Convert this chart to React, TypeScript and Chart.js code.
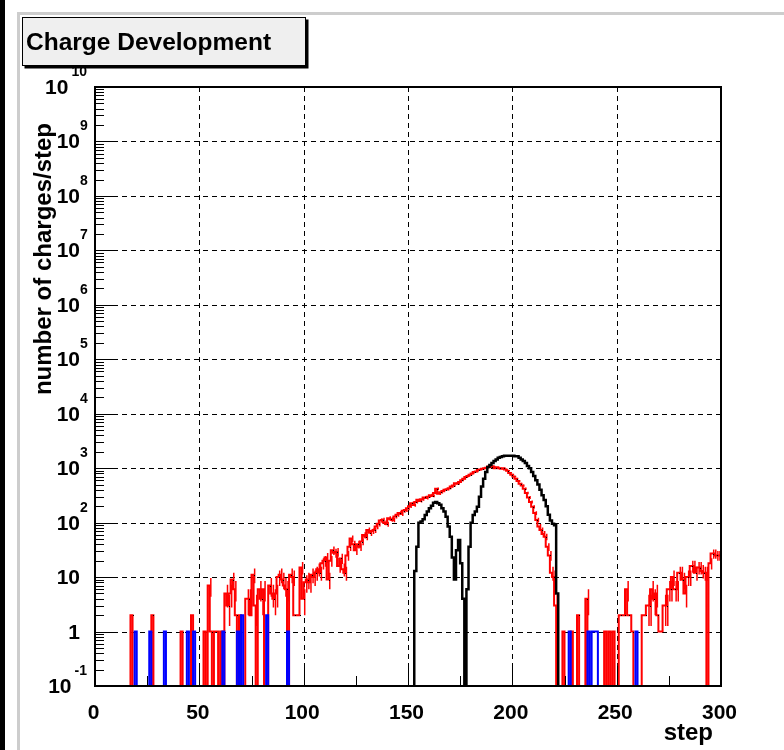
import React, { useEffect, useRef } from "react";
import { Chart, registerables } from "chart.js";

Chart.register(...registerables);

// ---- data -------------------------------------------------------------
const STEP_MIN = 0;
const STEP_MAX = 300;
const Y_MIN = 0.1;
const Y_MAX = 1e10;

const X_MAJOR_TICKS = [0, 50, 100, 150, 200, 250, 300];
const X_MINOR_TICKS = [25, 75, 125, 175, 225, 275];
const X_GRID = [50, 100, 150, 200, 250];
const Y_DECADES = [-1, 0, 1, 2, 3, 4, 5, 6, 7, 8, 9, 10];

// charges per step, all particles (steps 0..299)
const RED_COUNTS = [
  0, 0, 0, 0, 0, 0, 0, 0, 0, 0, 0, 0, 0, 0, 0, 0, 0, 0, 2, 0,
  0, 0, 0, 0, 0, 0, 0, 0, 2, 0, 0, 0, 0, 0, 0, 0, 0, 0, 0, 0,
  0, 0, 1, 0, 0, 0, 0, 2, 0, 0, 0, 0, 0, 1, 0, 7, 1, 0, 1, 1,
  0, 1, 0, 5, 3, 5, 9, 6, 2, 0, 2, 0, 0, 4, 4, 2, 11, 3, 0, 6,
  4, 6, 0, 0, 7, 5, 4, 5, 10, 11, 9, 7, 6, 0, 11, 10, 2, 2, 2, 15,
  4, 8, 9, 8, 11, 10, 12, 14, 12, 18, 20, 23, 9, 20, 31, 28, 29, 16, 22, 14,
  12, 25, 36, 51, 40, 31, 40, 36, 45, 59, 55, 73, 65, 70, 73, 85, 95, 110, 112, 100,
  94, 120, 115, 112, 130, 140, 150, 145, 165, 170, 183, 200, 226, 210, 240, 262, 250, 270, 290, 282,
  300, 320, 310, 350, 420, 340, 360, 380, 400, 410, 430, 460, 480, 530, 520, 560, 600, 640, 690, 720,
  760, 800, 850, 870, 930, 950, 980, 1000, 1020, 1070, 1050, 1080, 1000, 1040, 1000, 980, 1000, 950, 900, 820,
  760, 700, 640, 580, 520, 480, 420, 350, 290, 240, 195, 150, 112, 85, 73, 62, 55, 36, 25, 12,
  10, 3, 0, 0, 0, 1, 0, 0, 0, 1, 0, 0, 2, 0, 0, 0, 4, 0, 0, 0,
  0, 0, 0, 0, 0, 1, 0, 1, 0, 1, 0, 0, 2, 2, 2, 6, 2, 2, 1, 0,
  0, 0, 0, 2, 2, 3, 3, 6, 4, 5, 2, 1, 1, 3, 3, 6, 6, 10, 6, 6,
  12, 12, 9, 5, 10, 10, 16, 16, 12, 15, 15, 13, 12, 12, 0, 18, 27, 27, 25, 25,
];

// second component, non-empty from step 154 on
const BLACK_FIRST_STEP = 154;
const BLACK_COUNTS = [
  13, 36, 100, 105, 115, 138, 160, 183, 205, 232,
  240, 226, 212, 183, 160, 128, 85, 55, 23, 9,
  31, 48, 18, 4, 0, 6, 36, 100, 138, 160,
  195, 300, 460, 640, 850, 1050, 1150, 1250, 1350, 1450,
  1550, 1600, 1650, 1700, 1700, 1700, 1700, 1700, 1650, 1650,
  1550, 1450, 1350, 1250, 1100, 1000, 850, 720, 600, 500,
  400, 320, 260, 200, 140, 110, 95, 90, 5,
];

// sparse third component
const BLUE_STEPS = [20, 27, 34, 45, 48, 62, 69, 71, 83, 93, 228, 237, 239, 240, 241, 260];
const BLUE_COUNTS = [1, 1, 1, 1, 1, 1, 1, 2, 2, 1, 1, 1, 1, 1, 1, 1];

const FRAME_TITLE = "Charge Development";
const X_TITLE = "step";
const Y_TITLE = "number of charges/step";

// ---- helpers ----------------------------------------------------------
const FONT_FAMILY = '"Liberation Sans", Arial, Helvetica, sans-serif';
const EMPTY_BIN = 0.01; // empty bins drop below the log axis floor
const MIN_COUNT_WITH_ERROR = 3;

function fullBins(firstStep: number, counts: number[]): number[] {
  const out = new Array(STEP_MAX - STEP_MIN).fill(0);
  counts.forEach((c, i) => (out[firstStep + i] = c));
  return out;
}

function sparseBins(steps: number[], counts: number[]): number[] {
  const out = new Array(STEP_MAX - STEP_MIN).fill(0);
  steps.forEach((s, i) => (out[s] = counts[i]));
  return out;
}

function stepPoints(counts: number[]) {
  const pts = counts.map((c, i) => ({ x: STEP_MIN + i, y: c > 0 ? c : EMPTY_BIN }));
  const last = counts[counts.length - 1];
  pts.push({ x: STEP_MIN + counts.length, y: last > 0 ? last : EMPTY_BIN });
  return pts;
}

const decorations = {
  id: "rootDecorations",
  beforeDatasetsDraw(chart: any) {
    const { ctx, chartArea: a, scales } = chart;
    ctx.save();
    ctx.strokeStyle = "#000";
    ctx.lineWidth = 1;
    ctx.setLineDash([5, 4]);
    ctx.beginPath();
    for (const v of X_GRID) {
      const px = Math.round(scales.x.getPixelForValue(v)) + 0.5;
      ctx.moveTo(px, a.top);
      ctx.lineTo(px, a.bottom);
    }
    for (let k = 0; k <= 9; k++) {
      const py = Math.round(scales.y.getPixelForValue(Math.pow(10, k))) + 0.5;
      ctx.moveTo(a.left, py);
      ctx.lineTo(a.right, py);
    }
    ctx.stroke();
    ctx.restore();
  },
  // statistical (sqrt N) error bars on the all-particle histogram
  afterDatasetDraw(chart: any, args: any) {
    const ds = chart.data.datasets[args.index];
    if (ds.label !== "all charges") return;
    const { ctx, chartArea: a, scales } = chart;
    ctx.save();
    ctx.beginPath();
    ctx.rect(a.left, a.top, a.right - a.left, a.bottom - a.top);
    ctx.clip();
    ctx.strokeStyle = "#ff0000";
    ctx.lineWidth = 1.5;
    ctx.beginPath();
    RED_COUNTS.forEach((n, i) => {
      if (n < MIN_COUNT_WITH_ERROR) return;
      const err = Math.sqrt(n);
      const px = scales.x.getPixelForValue(STEP_MIN + i + 0.5);
      ctx.moveTo(px, scales.y.getPixelForValue(n - err));
      ctx.lineTo(px, scales.y.getPixelForValue(n + err));
    });
    ctx.stroke();
    ctx.fillStyle = "#000";
    RED_COUNTS.forEach((n, i) => {
      if (n <= 0 || i % 2) return;
      const px = scales.x.getPixelForValue(STEP_MIN + i + 0.5);
      const py = scales.y.getPixelForValue(n);
      ctx.fillRect(Math.round(px) - 1, Math.round(py), 1, 1);
    });
    ctx.restore();
  },
  afterDatasetsDraw(chart: any) {
    const { ctx, chartArea: a, scales } = chart;
    ctx.save();
    ctx.setLineDash([]);
    ctx.strokeStyle = "#000";
    ctx.lineWidth = 2;
    ctx.strokeRect(a.left, a.top, a.right - a.left, a.bottom - a.top);

    ctx.lineWidth = 1;
    ctx.beginPath();
    // log y ticks
    for (let k = -1; k <= 10; k++) {
      for (let m = 1; m <= 9; m++) {
        const v = m * Math.pow(10, k);
        if (v < Y_MIN || v > Y_MAX) continue;
        const py = Math.round(scales.y.getPixelForValue(v)) + 0.5;
        const len = m === 1 ? 20 : 9;
        ctx.moveTo(a.left, py);
        ctx.lineTo(a.left + len, py);
      }
    }
    // x ticks
    for (const v of X_MAJOR_TICKS) {
      const px = Math.round(scales.x.getPixelForValue(v)) + 0.5;
      ctx.moveTo(px, a.bottom);
      ctx.lineTo(px, a.bottom - 20);
    }
    for (const v of X_MINOR_TICKS) {
      const px = Math.round(scales.x.getPixelForValue(v)) + 0.5;
      ctx.moveTo(px, a.bottom);
      ctx.lineTo(px, a.bottom - 10);
    }
    ctx.stroke();
    ctx.restore();
  },
  afterDraw(chart: any) {
    const { ctx, chartArea: a, scales } = chart;
    ctx.save();
    ctx.fillStyle = "#000";

    // y tick labels
    const labelFont = `bold 21px ${FONT_FAMILY}`;
    const expFont = `bold 14px ${FONT_FAMILY}`;
    for (const k of Y_DECADES) {
      const py = scales.y.getPixelForValue(Math.pow(10, k));
      ctx.textBaseline = "alphabetic";
      if (k === 0 || k === 1) {
        ctx.font = labelFont;
        ctx.textAlign = "right";
        ctx.fillText(k === 0 ? "1" : "10", a.left - 15, py + 7);
        continue;
      }
      const exp = String(k);
      ctx.font = expFont;
      const expW = ctx.measureText(exp).width;
      const multi = exp.length > 1;
      const baseRight = multi ? a.left - 15 - (expW - 8) - 4 : a.left - 15;
      ctx.font = labelFont;
      ctx.textAlign = "right";
      ctx.fillText("10", baseRight, py + 7);
      ctx.font = expFont;
      ctx.textAlign = "left";
      ctx.fillText(exp, baseRight + (multi ? 3 : 0), py - 11);
    }

    // x tick labels
    ctx.font = labelFont;
    ctx.textAlign = "center";
    for (const v of X_MAJOR_TICKS) {
      const px = scales.x.getPixelForValue(v);
      ctx.fillText(String(v), px - 1.5, a.bottom + 33);
    }

    // axis titles
    const titleFont = `bold 24px ${FONT_FAMILY}`;
    ctx.font = titleFont;
    ctx.textAlign = "right";
    ctx.fillText(X_TITLE, a.right - 8, a.bottom + 54);

    ctx.save();
    ctx.translate(51, a.top + 36);
    ctx.rotate(-Math.PI / 2);
    ctx.textAlign = "right";
    ctx.fillText(Y_TITLE, 0, 0);
    ctx.restore();

    // title box
    const bx = 22.5, by = 17.5, bw = 283, bh = 48;
    ctx.fillStyle = "#000";
    ctx.fillRect(bx + 2, by + 2, bw + 1, bh + 1);
    ctx.fillStyle = "#efefef";
    ctx.fillRect(bx, by, bw, bh);
    ctx.strokeStyle = "#000";
    ctx.lineWidth = 1;
    ctx.strokeRect(bx, by, bw, bh);
    ctx.fillStyle = "#000";
    ctx.font = `bold 24.5px ${FONT_FAMILY}`;
    ctx.textAlign = "left";
    ctx.fillText(FRAME_TITLE, 26, 50);

    ctx.restore();
  },
};

export default function App() {
  const canvasRef = useRef<HTMLCanvasElement | null>(null);

  useEffect(() => {
    const canvas = canvasRef.current;
    if (!canvas) return;
    const area = { left: 95, top: 87, right: 721, bottom: 686 };
    const chart = new Chart(canvas, {
      type: "line",
      data: {
        datasets: [
          {
            label: "blue",
            data: stepPoints(sparseBins(BLUE_STEPS, BLUE_COUNTS)),
            borderColor: "#0000ff",
            borderWidth: 2,
            stepped: "after",
            pointRadius: 0,
            fill: false,
            order: 0,
          },
          {
            label: "black",
            data: stepPoints(fullBins(BLACK_FIRST_STEP, BLACK_COUNTS)),
            borderColor: "#000000",
            borderWidth: 2.5,
            stepped: "after",
            pointRadius: 0,
            fill: false,
            order: 1,
          },
          {
            label: "all charges",
            data: stepPoints(RED_COUNTS),
            borderColor: "#ff0000",
            borderWidth: 2,
            stepped: "after",
            pointRadius: 0,
            fill: false,
            order: 2,
          },
        ],
      },
      options: {
        animation: false,
        responsive: false,
        devicePixelRatio: 1,
        events: [],
        layout: {
          padding: {
            left: area.left,
            top: area.top,
            right: 784 - area.right,
            bottom: 750 - area.bottom,
          },
        },
        plugins: {
          legend: { display: false },
          tooltip: { enabled: false },
          title: { display: false },
        },
        scales: {
          x: { type: "linear", min: STEP_MIN, max: STEP_MAX, display: false },
          y: { type: "logarithmic", min: Y_MIN, max: Y_MAX, display: false },
        },
      },
      plugins: [decorations],
    } as any);
    return () => chart.destroy();
  }, []);

  return (
    <div
      style={{
        position: "absolute",
        left: 0,
        top: 0,
        width: 784,
        height: 750,
        background: "#fff",
        overflow: "hidden",
      }}
    >
      <div style={{ position: "absolute", left: 0, top: 0, width: 5, height: 750, background: "#000" }} />
      <div style={{ position: "absolute", left: 17, top: 12, width: 767, height: 3, background: "#cdcdcd" }} />
      <div style={{ position: "absolute", left: 17, top: 12, width: 3, height: 738, background: "#cdcdcd" }} />
      <canvas
        ref={canvasRef}
        width={784}
        height={750}
        style={{ position: "absolute", left: 0, top: 0, width: 784, height: 750 }}
      />
    </div>
  );
}
